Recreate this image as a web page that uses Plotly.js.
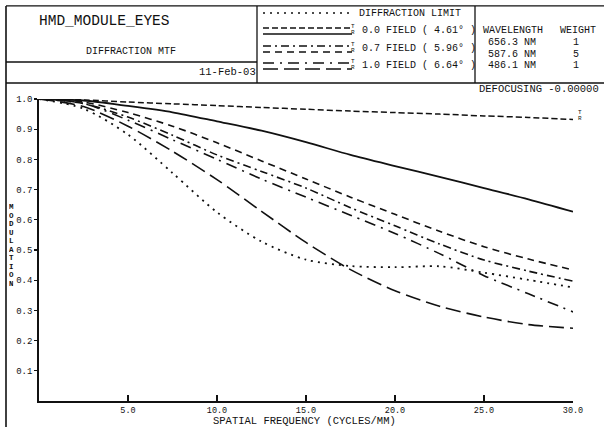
<!DOCTYPE html>
<html>
<head>
<meta charset="utf-8">
<script src="https://cdn.plot.ly/plotly-3.0.1.min.js"></script>
<style>html,body{margin:0;padding:0;background:#fff;}#chart{width:604px;height:427px;}</style>
</head>
<body>
<div id="chart"></div>
<script>
// ---- data ----
const freq       = [0, 2.5, 5, 7.5, 10, 12.5, 15, 17.5, 20, 22.5, 25, 27.5, 30];
const diffLimit  = [1.0, 0.997, 0.990, 0.984, 0.978, 0.972, 0.966, 0.960, 0.955, 0.950, 0.944, 0.939, 0.932];
const field00T   = [1.0, 0.968, 0.882, 0.755, 0.625, 0.528, 0.468, 0.447, 0.443, 0.446, 0.425, 0.401, 0.376];
const field00R   = [1.0, 0.995, 0.977, 0.956, 0.926, 0.895, 0.857, 0.815, 0.778, 0.742, 0.705, 0.668, 0.627];
const field07T   = [1.0, 0.985, 0.940, 0.880, 0.815, 0.760, 0.705, 0.640, 0.580, 0.520, 0.467, 0.430, 0.397];
const field07R   = [1.0, 0.990, 0.955, 0.910, 0.855, 0.795, 0.735, 0.675, 0.618, 0.562, 0.511, 0.470, 0.434];
const field10T   = [1.0, 0.985, 0.930, 0.865, 0.800, 0.735, 0.675, 0.615, 0.555, 0.488, 0.415, 0.355, 0.295];
const field10R   = [1.0, 0.975, 0.910, 0.827, 0.733, 0.628, 0.525, 0.435, 0.365, 0.314, 0.278, 0.253, 0.241];

const xTickVals  = [5, 10, 15, 20, 25, 30];
const xTickText  = ["5.0", "10.0", "15.0", "20.0", "25.0", "30.0"];
const yTickVals  = [0.1, 0.2, 0.3, 0.4, 0.5, 0.6, 0.7, 0.8, 0.9, 1.0];
const yTickText  = ["0.1", "0.2", "0.3", "0.4", "0.5", "0.6", "0.7", "0.8", "0.9", "1.0"];
const xTitle     = "SPATIAL FREQUENCY (CYCLES/MM)";
const yTitle     = "MODULATION";

const legendLabels = ["DIFFRACTION LIMIT", "0.0 FIELD ( 4.61\u00b0 )", "0.7 FIELD ( 5.96\u00b0 )", "1.0 FIELD ( 6.64\u00b0 )"];
const wavelengths  = ["656.3 NM", "587.6 NM", "486.1 NM"];
const weights      = ["1", "5", "1"];

// ---- styles ----
const FONT = "Liberation Mono, DejaVu Sans Mono, monospace";
const INK = "#111";
const st = {
  diff: {dash: "6px,3px", width: 1.5},
  f0T:  {dash: "2px,5px", width: 1.8},
  f0R:  {dash: "solid", width: 1.8},
  f7T:  {dash: "8px,4px,2px,4px", width: 1.6},
  f7R:  {dash: "7px,5px", width: 1.6},
  f10T: {dash: "11px,6px,2px,6px", width: 1.6},
  f10R: {dash: "15px,6px", width: 1.6}
};
function tr(y, s){ return {x: freq, y: y, type: "scatter", mode: "lines", line: {color: INK, width: s.width, dash: s.dash, shape: "spline", smoothing: 0.8}, hoverinfo: "skip", showlegend: false}; }
const traces = [tr(diffLimit, st.diff), tr(field00T, st.f0T), tr(field00R, st.f0R), tr(field07T, st.f7T), tr(field07R, st.f7R), tr(field10T, st.f10T), tr(field10R, st.f10R)];

// pixel -> paper helpers for the decorative header
const L = 39, R = 573, T = 99, B = 400.9;
const px = v => (v - L) / (R - L);
const py = v => (B - v) / (B - T);

const shapes = [];
function hline(x0, x1, y, w, dash){ shapes.push({type: "line", xref: "paper", yref: "paper", x0: px(x0), x1: px(x1), y0: py(y), y1: py(y), line: {color: INK, width: w || 1.3, dash: dash || "solid"}}); }
function vline(x, y0, y1, w){ shapes.push({type: "line", xref: "paper", yref: "paper", x0: px(x), x1: px(x), y0: py(y0), y1: py(y1), line: {color: INK, width: w || 1.3}}); }

// frame
hline(6, 604, 6);
vline(6, 6, 427, 1.6);
vline(257, 6, 83);
vline(475, 6, 83);
hline(6, 257, 62);
hline(6, 604, 83);

// legend samples
hline(263, 352, 13, 1.4, st.f0T.dash);
hline(263, 352, 28, 1.4, st.diff.dash);
hline(263, 352, 34, 1.6, "solid");
hline(263, 352, 46, 1.5, st.f7T.dash);
hline(263, 352, 52, 1.5, st.f7R.dash);
hline(263, 352, 63, 1.5, st.f10T.dash);
hline(263, 352, 69, 1.5, st.f10R.dash);

const ann = [];
function txt(x, y, s, size, anchor, extra){ ann.push(Object.assign({xref: "paper", yref: "paper", x: px(x), y: py(y), text: s, showarrow: false, xanchor: anchor || "left", yanchor: "middle", font: {family: FONT, size: size, color: INK}}, extra || {})); }

txt(37, 21, "HMD_MODULE_EYES", 14.5);
txt(131, 52, "DIFFRACTION MTF", 10, "center");
txt(258, 72, "11-Feb-03", 10.5, "right");

txt(357, 14, legendLabels[0], 10);
txt(360, 31, legendLabels[1], 10);
txt(360, 49, legendLabels[2], 10);
txt(360, 66, legendLabels[3], 10);
[[27,33],[45,51],[62,68]].forEach(p => { txt(353, p[0], "T", 6, "center"); txt(353, p[1], "R", 6, "center"); });

txt(481, 31, "WAVELENGTH", 10);
txt(558, 31, "WEIGHT", 10);
wavelengths.forEach((w, i) => { txt(486, 43 + i * 11.5, w, 10); txt(576, 43 + i * 11.5, weights[i], 10, "center"); });

txt(601, 89, "DEFOCUSING -0.00000", 10.5, "right");
txt(580, 112, "T", 6, "center");
txt(580, 118, "R", 6, "center");

// x-axis title
txt(304, 428, xTitle, 10.5, "center", {yanchor: "bottom", borderpad: 0});
// vertical stacked y-axis title
yTitle.split("").forEach((c, i) => { ann.push({xref: "paper", yref: "paper", x: px(11), y: py(207 + i * 8.5), text: "<b>" + c + "</b>", showarrow: false, xanchor: "center", yanchor: "middle", height: 8, font: {family: FONT, size: 7.5, color: INK}}); });

const layout = {
  width: 604, height: 427,
  margin: {l: L, r: 604 - R, t: T, b: 427 - B, pad: 0},
  paper_bgcolor: "#fff", plot_bgcolor: "#fff",
  showlegend: false,
  xaxis: {range: [0, 30], showgrid: false, zeroline: false, showline: true, linecolor: INK, linewidth: 1.8,
          tickmode: "array", tickvals: xTickVals, ticktext: xTickText, ticks: "inside", ticklen: 6, tickwidth: 1.3, tickcolor: INK,
          tickfont: {family: FONT, size: 8.5, color: INK}},
  yaxis: {range: [0, 1.0], showgrid: false, zeroline: false, showline: true, linecolor: INK, linewidth: 1.8,
          tickmode: "array", tickvals: yTickVals, ticktext: yTickText, ticks: "outside", ticklen: 3, tickwidth: 1.3, tickcolor: INK,
          tickfont: {family: FONT, size: 9, color: INK}},
  shapes: shapes,
  annotations: ann
};
Plotly.newPlot("chart", traces, layout, {staticPlot: true, displayModeBar: false});
</script>
</body>
</html>
